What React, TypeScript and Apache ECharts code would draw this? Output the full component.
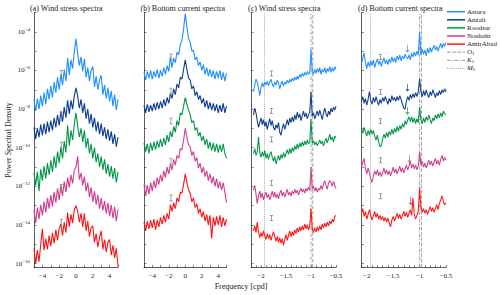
import React, { useEffect, useRef } from 'react';
import * as echarts from 'echarts';

// ---------- categories / labels ----------
const STATIONS = ['Astara', 'Anzali', 'Roodsar', 'Noshahr', 'AmirAbad'];
const COLORS = ['#1e90ff', '#0c3c8c', '#009646', '#d23c8c', '#ff1414'];
const PANEL_TITLES = ['(a) Wind stress spectra', '(b) Bottom current spectra', '(c) Wind stress spectra', '(d) Bottom current spectra'];
const TIDE_NAMES = ['O1', 'K1', 'M2'];
const TIDE_LABELS = ['{it|O}{sb|1}', '{it|K}{sb|1}', '{it|M}{sb|2}'];
const TIDE_FREQS = [-0.965, -1.0, -1.93]; // cpd

// frequency grids (cpd)
const FULL_START = -5, FULL_STEP = 0.2, FULL_COUNT = 51;
const C_START = -2.15, D_START = -2.1, ZOOM_STEP = 0.025, C_COUNT = 67, D_COUNT = 65;

// y values are log10(PSD)
const Y_MIN = -16.2, Y_MAX = -3;

// ---------- (a) wind stress, full band ----------
const ASTARA_A = [-7.5,-8.1,-7.45,-8.0,-7.3,-7.85,-7.15,-7.75,-6.95,-7.5,-6.8,-7.4,-6.6,-7.15,-6.35,-7.0,-6.2,-6.75,-5.95,-6.55,-5.35,-6.25,-5.45,-5.9,-5.0,-4.35,-5.1,-5.75,-5.3,-6.05,-5.4,-6.35,-5.85,-6.55,-6.0,-5.8,-6.85,-6.3,-7.0,-6.5,-6.25,-7.25,-6.75,-7.45,-6.9,-7.6,-7.05,-7.85,-7.25,-8.05,-7.5];
const ANZALI_A = [-8.95,-9.55,-9.0,-9.45,-8.8,-9.35,-8.75,-9.3,-8.65,-9.2,-8.6,-9.1,-8.45,-8.95,-8.3,-8.85,-8.1,-8.65,-7.9,-8.45,-7.55,-8.25,-7.55,-8.0,-7.3,-6.9,-7.35,-7.95,-7.5,-8.2,-7.7,-8.5,-8.0,-8.75,-8.25,-8.95,-8.45,-9.15,-8.65,-9.3,-8.75,-9.4,-8.95,-9.55,-9.05,-9.65,-9.15,-9.8,-9.3,-9.95,-9.45];
const ROODSAR_A = [-11.3,-11.95,-11.25,-12.25,-11.1,-11.7,-10.95,-11.6,-10.8,-11.4,-10.65,-11.25,-10.45,-11.05,-10.2,-10.8,-9.95,-10.55,-9.65,-10.25,-8.85,-9.9,-9.1,-9.6,-8.75,-8.2,-8.9,-9.45,-9.0,-9.7,-9.1,-10.0,-9.5,-10.3,-9.8,-10.55,-10.0,-10.75,-10.3,-11.0,-10.45,-11.15,-10.6,-11.35,-10.85,-11.5,-10.95,-11.6,-11.05,-11.8,-11.25];
const NOSHAHR_A = [-13.2,-13.9,-13.1,-13.7,-12.95,-13.5,-12.8,-13.35,-12.6,-13.15,-12.45,-13.05,-12.3,-12.85,-12.1,-12.7,-11.95,-12.5,-11.75,-12.3,-11.55,-12.05,-11.4,-11.85,-11.15,-11.0,-10.45,-11.65,-11.3,-11.95,-11.5,-12.25,-11.8,-12.55,-12.05,-12.8,-12.25,-12.95,-12.45,-13.15,-12.6,-13.25,-12.75,-13.4,-12.85,-13.55,-12.95,-13.65,-13.05,-13.8,-13.2];
const AMIRABAD_A = [-15.2,-16.0,-15.3,-15.9,-15.0,-14.2,-15.3,-14.7,-15.25,-14.55,-15.1,-14.4,-14.95,-14.25,-14.8,-14.15,-13.95,-14.55,-13.85,-14.4,-13.35,-14.1,-13.45,-13.9,-13.2,-13.0,-13.3,-13.85,-13.4,-14.1,-13.4,-14.3,-13.8,-14.6,-14.15,-14.05,-14.9,-14.45,-15.15,-14.65,-14.3,-15.25,-14.75,-15.4,-14.9,-14.75,-15.55,-15.05,-15.7,-15.2,-16.15];

// ---------- (b) bottom current, full band ----------
const ASTARA_B = [-6.1,-6.5,-6.05,-6.4,-6.0,-6.45,-6.05,-6.35,-5.95,-6.4,-6.0,-6.3,-5.85,-6.2,-5.75,-6.05,-5.3,-5.85,-5.35,-5.6,-5.05,-5.2,-4.65,-4.45,-3.85,-3.05,-3.75,-4.35,-4.55,-5.0,-4.95,-5.45,-5.3,-5.75,-5.55,-6.0,-5.7,-6.2,-5.85,-6.3,-5.95,-6.35,-6.0,-6.45,-6.05,-6.4,-6.0,-6.5,-6.1,-6.55,-6.15];
const ANZALI_B = [-7.8,-8.2,-7.75,-8.15,-7.8,-8.1,-7.7,-8.05,-7.65,-8.0,-7.6,-7.95,-7.5,-7.85,-7.4,-7.7,-7.2,-7.45,-6.95,-7.25,-6.7,-6.9,-6.35,-6.45,-5.95,-5.45,-5.95,-6.4,-6.5,-6.95,-6.8,-7.3,-7.1,-7.5,-7.3,-7.7,-7.45,-7.9,-7.55,-8.0,-7.65,-8.05,-7.7,-8.1,-7.75,-8.2,-7.8,-8.15,-7.7,-8.2,-7.85];
const ROODSAR_B = [-9.75,-10.2,-9.8,-10.3,-9.75,-10.15,-9.7,-10.1,-9.65,-10.0,-9.55,-9.95,-9.5,-9.85,-9.35,-9.7,-9.15,-9.45,-8.9,-9.2,-8.6,-8.85,-8.2,-8.3,-7.85,-7.4,-7.75,-8.05,-8.3,-8.7,-8.6,-9.1,-8.95,-9.4,-9.2,-9.65,-9.4,-9.85,-9.55,-10.05,-9.7,-10.15,-9.75,-10.2,-9.8,-10.25,-9.85,-10.2,-9.8,-10.3,-10.55];
const NOSHAHR_B = [-11.9,-12.5,-11.95,-12.4,-11.8,-12.25,-11.7,-12.1,-11.55,-11.9,-11.4,-11.75,-11.2,-11.55,-11.0,-11.35,-10.85,-11.15,-10.6,-10.9,-10.4,-10.55,-10.05,-10.1,-9.6,-9.0,-9.45,-9.85,-9.95,-10.4,-10.2,-10.7,-10.5,-11.05,-10.8,-11.3,-11.0,-11.5,-11.2,-11.7,-11.35,-11.85,-11.5,-12.0,-11.6,-12.1,-11.75,-12.2,-11.8,-12.3,-12.85];
const AMIRABAD_B = [-13.85,-14.3,-13.8,-14.2,-13.75,-14.15,-13.7,-14.25,-13.75,-14.1,-13.6,-13.95,-13.5,-13.85,-13.4,-13.7,-12.95,-13.3,-12.85,-13.15,-12.6,-12.8,-12.3,-12.35,-11.9,-11.35,-11.8,-12.2,-12.35,-12.8,-12.6,-13.1,-12.9,-13.4,-13.15,-13.6,-13.3,-13.8,-13.45,-14.0,-13.5,-14.7,-13.6,-14.05,-13.55,-14.0,-13.5,-14.1,-13.6,-14.05,-13.7];

// ---------- (c) wind stress, diurnal/semidiurnal band ----------
const ASTARA_C = [-7.1,-6.75,-6.45,-6.6,-6.9,-7.3,-6.9,-6.65,-6.85,-6.6,-6.75,-6.55,-6.8,-6.6,-6.45,-6.7,-6.85,-6.6,-6.75,-6.5,-6.65,-6.95,-6.7,-6.55,-6.8,-6.6,-6.7,-6.5,-6.65,-6.45,-6.6,-6.4,-6.55,-6.35,-6.5,-6.3,-6.45,-6.2,-6.35,-6.15,-6.3,-6.1,-6.25,-6.05,-6.2,-6.1,-4.9,-6.05,-6.2,-5.95,-6.15,-5.9,-6.1,-5.85,-6.2,-5.95,-6.1,-5.85,-6.15,-5.9,-6.05,-5.8,-6.1,-5.85,-6.05,-5.8,-5.95];
const ANZALI_C = [-8.3,-7.95,-8.2,-8.6,-8.95,-8.7,-8.45,-8.8,-8.55,-8.9,-8.65,-9.05,-8.75,-8.5,-8.85,-8.6,-8.95,-9.1,-8.8,-9.0,-8.7,-9.2,-9.35,-9.0,-8.75,-9.05,-8.8,-8.55,-8.85,-8.45,-8.7,-8.4,-8.65,-8.3,-8.55,-8.15,-8.45,-8.25,-8.6,-8.35,-8.1,-8.4,-8.2,-8.5,-8.3,-8.15,-7.1,-8.35,-8.2,-8.5,-8.3,-8.1,-8.35,-8.05,-8.3,-8.55,-8.2,-7.95,-8.25,-8.4,-8.1,-8.3,-7.95,-8.15,-7.9,-8.05,-7.85];
const ROODSAR_C = [-10.3,-10.05,-10.4,-10.2,-9.45,-10.25,-10.5,-10.2,-10.45,-10.15,-10.55,-10.3,-10.6,-10.35,-10.2,-10.5,-10.7,-10.45,-10.85,-10.6,-10.4,-10.65,-10.35,-10.55,-10.25,-10.5,-10.3,-10.1,-10.35,-10.05,-10.3,-10.0,-10.2,-9.9,-10.1,-9.8,-10.05,-9.75,-9.95,-9.7,-9.9,-9.65,-9.85,-9.6,-9.8,-9.7,-8.5,-9.75,-9.65,-9.85,-9.7,-9.9,-9.75,-9.6,-9.8,-9.65,-9.9,-9.7,-9.5,-9.75,-9.55,-9.3,-9.6,-9.45,-9.7,-9.4,-9.5];
const NOSHAHR_C = [-12.2,-11.95,-12.4,-12.9,-12.5,-12.25,-12.6,-12.35,-12.7,-12.45,-12.3,-12.6,-12.4,-12.7,-12.5,-12.25,-12.55,-12.3,-12.6,-12.4,-12.65,-12.35,-12.2,-12.5,-12.3,-12.55,-12.35,-12.15,-12.45,-12.3,-12.5,-12.25,-12.4,-12.15,-12.35,-12.2,-12.45,-12.25,-12.1,-12.3,-12.15,-12.35,-12.1,-12.25,-12.05,-12.2,-11.0,-12.15,-12.0,-12.25,-12.05,-12.3,-12.1,-12.2,-11.95,-12.15,-11.9,-11.7,-11.95,-12.15,-11.85,-11.7,-11.8,-12.0,-11.75,-11.95,-12.1];
const AMIRABAD_C = [-14.3,-14.05,-14.4,-13.85,-14.35,-14.65,-14.4,-14.6,-14.3,-14.55,-14.75,-14.45,-14.7,-14.5,-14.8,-14.55,-14.35,-14.6,-14.85,-14.6,-14.9,-14.65,-14.95,-14.7,-15.05,-14.75,-14.5,-14.8,-14.55,-14.3,-14.6,-14.35,-14.55,-14.25,-14.45,-14.15,-14.35,-14.1,-14.3,-14.05,-14.25,-13.95,-14.2,-14.0,-14.25,-14.05,-13.15,-14.2,-14.4,-14.15,-14.35,-14.1,-14.3,-14.05,-14.25,-13.95,-14.15,-13.9,-14.1,-13.85,-14.05,-13.8,-13.95,-13.7,-13.85,-13.55,-13.5];

// ---------- (d) bottom current, diurnal/semidiurnal band ----------
const ASTARA_D = [-5.65,-5.35,-5.1,-5.6,-5.9,-5.55,-5.8,-5.5,-5.75,-5.45,-5.85,-5.6,-5.4,-5.7,-5.5,-5.8,-5.55,-5.35,-5.65,-5.45,-5.7,-5.4,-5.6,-5.3,-5.55,-5.35,-5.6,-5.25,-5.45,-5.2,-5.5,-5.25,-5.4,-5.15,-5.35,-5.4,-5.2,-5.45,-5.1,-5.3,-5.05,-5.25,-5.0,-5.2,-4.0,-5.2,-4.9,-5.15,-4.95,-5.25,-4.85,-5.1,-4.8,-5.05,-4.85,-4.7,-4.95,-4.75,-5.0,-4.8,-4.6,-4.85,-4.6,-4.75,-4.55];
const ANZALI_D = [-7.6,-7.35,-7.7,-7.45,-7.8,-7.5,-7.1,-7.55,-7.75,-7.4,-7.65,-7.35,-7.6,-7.8,-7.5,-7.7,-7.4,-7.6,-7.35,-7.55,-7.75,-7.45,-7.65,-7.3,-7.55,-7.4,-7.6,-7.35,-7.55,-7.3,-7.5,-7.75,-7.95,-8.0,-7.6,-7.35,-7.55,-7.25,-7.45,-7.2,-7.4,-7.15,-7.35,-7.1,-6.45,-7.1,-7.35,-7.05,-7.3,-7.0,-7.25,-7.4,-7.1,-7.3,-7.0,-7.2,-7.4,-7.15,-7.3,-7.05,-7.25,-7.0,-7.15,-6.95,-7.1];
const ROODSAR_D = [-9.0,-9.25,-8.95,-9.2,-9.4,-9.1,-9.35,-9.05,-9.3,-9.1,-9.4,-9.6,-9.35,-9.7,-9.95,-9.9,-9.55,-9.3,-9.5,-9.2,-9.45,-9.15,-9.35,-9.05,-9.3,-9.0,-9.2,-8.9,-9.15,-8.85,-9.05,-8.75,-8.95,-8.6,-8.8,-8.55,-8.4,-8.65,-8.4,-8.7,-8.45,-8.75,-8.5,-8.7,-7.9,-8.55,-8.75,-8.45,-8.7,-8.4,-8.6,-8.3,-8.55,-8.75,-8.45,-8.6,-8.3,-8.5,-8.25,-8.45,-8.2,-8.4,-8.1,-8.25,-8.3];
const NOSHAHR_D = [-11.0,-10.75,-10.55,-11.1,-11.35,-11.05,-11.3,-11.6,-11.8,-11.45,-11.2,-11.4,-11.15,-11.45,-11.25,-11.5,-11.3,-11.05,-11.35,-11.15,-11.4,-11.2,-11.45,-11.25,-11.0,-11.3,-11.1,-11.35,-11.15,-10.95,-11.25,-11.05,-11.3,-11.1,-10.9,-11.15,-10.95,-10.7,-11.05,-10.85,-11.1,-10.9,-11.15,-10.95,-10.2,-10.9,-10.7,-11.0,-10.8,-11.05,-10.85,-10.65,-10.9,-10.7,-10.95,-10.75,-10.55,-10.85,-10.65,-10.9,-10.6,-10.4,-10.7,-10.5,-10.65];
const AMIRABAD_D = [-13.4,-13.15,-13.55,-13.3,-13.7,-13.45,-13.2,-13.5,-13.75,-13.5,-13.3,-13.6,-13.4,-13.7,-13.5,-13.75,-13.55,-13.8,-13.6,-13.85,-13.65,-13.9,-14.1,-13.75,-13.55,-13.8,-13.6,-13.4,-13.65,-13.45,-13.7,-13.5,-13.3,-13.55,-13.35,-13.6,-13.4,-13.2,-13.5,-12.6,-13.45,-13.7,-13.5,-13.3,-12.05,-13.1,-13.35,-13.15,-13.4,-13.2,-13.45,-13.25,-13.05,-13.3,-13.1,-13.35,-13.15,-12.95,-13.2,-12.9,-12.7,-12.5,-12.8,-12.95,-12.85];

// ---------- confidence intervals (centre, log10) and arrows ----------
const ERR_FREQS = [-1.75, -1.73, -1.79, -1.74];
const ERR_HALF = [0.2, 0.15, 0.13, 0.13];
const ERR_A = [-6.2, -8.4, -9.92, -12.1, -13.9];
const ERR_B = [-5.3, -7.07, -8.62, -10.7, -12.6];
const ERR_C = [-6.16, -8.1, -9.57, -11.82, -13.64];
const ERR_D = [-5.3, -7.11, -8.62, -10.65, -12.51];
const ARROW_FREQS = [-1.23, -1.23, -1.23, -1.19, -1.17];
const ARROW_TIPS = [-5.08, -7.1, -8.3, -10.8, -12.98];

const F = '"Liberation Serif", "DejaVu Serif", serif';
const TXT = '#222';
const AX = '#333';
const TIDE_COLOR = '#8a8a8a';
const TIDE_DASH: any[] = [[3.5, 1.8], [3.5, 1.5, 1, 1.5], [1, 1.2]];

function grid(start: number, step: number, n: number) {
  return Array.from({ length: n }, (_, i) => Math.round((start + step * i) * 1000) / 1000);
}

function buildOption() {
  const fFull = grid(FULL_START, FULL_STEP, FULL_COUNT);
  const fC = grid(C_START, ZOOM_STEP, C_COUNT);
  const fD = grid(D_START, ZOOM_STEP, D_COUNT);
  const panels = [
    { freqs: fFull, sets: [ASTARA_A, ANZALI_A, ROODSAR_A, NOSHAHR_A, AMIRABAD_A], err: ERR_A },
    { freqs: fFull, sets: [ASTARA_B, ANZALI_B, ROODSAR_B, NOSHAHR_B, AMIRABAD_B], err: ERR_B },
    { freqs: fC, sets: [ASTARA_C, ANZALI_C, ROODSAR_C, NOSHAHR_C, AMIRABAD_C], err: ERR_C },
    { freqs: fD, sets: [ASTARA_D, ANZALI_D, ROODSAR_D, NOSHAHR_D, AMIRABAD_D], err: ERR_D },
  ];
  const layout = [
    { left: 34, width: 84, min: -5, max: 5, interval: 1 },
    { left: 144, width: 82.5, min: -5, max: 5, interval: 1 },
    { left: 251, width: 85, min: -2.2, max: -0.5, interval: 0.1 },
    { left: 361.5, width: 84.5, min: -2.1, max: -0.5, interval: 0.1 },
  ];

  const fmtFull = (v: number) => {
    const r = Math.round(v);
    return Math.abs(v - r) < 1e-6 && r % 2 === 0 ? (r < 0 ? '\u2212' + -r : String(r)) : '';
  };
  const fmtZoom = (v: number) => {
    const r = Math.round(v * 10);
    if (Math.abs(v * 10 - r) > 1e-6 || r % 5 !== 0) return '';
    const s = String(Math.abs(r / 10));
    return r < 0 ? '\u2212' + s : s;
  };
  const fmtY = (v: number) => {
    const r = Math.round(v);
    if (Math.abs(v - r) > 1e-6 || r % 2 !== 0) return '';
    return '{b|10}{s|\u2212' + -r + '}';
  };

  const series: any[] = [];
  panels.forEach((p, k) => {
    p.sets.forEach((vals, s) => {
      series.push({
        type: 'line', name: STATIONS[s], xAxisIndex: k, yAxisIndex: k,
        data: p.freqs.map((f, i) => [f, vals[i]]).filter((d) => d[1] != null),
        symbol: 'none', showSymbol: false, silent: true,
        lineStyle: { color: COLORS[s], width: k < 2 ? 1.1 : 1.05 }, itemStyle: { color: COLORS[s] }, z: 2,
      });
    });
    const half = ERR_HALF[k];
    series.push({
      type: 'custom', name: 'ci' + k, xAxisIndex: k, yAxisIndex: k, silent: true, z: 3,
      data: p.err.map((c) => [ERR_FREQS[k], c]),
      renderItem: (_params: any, api: any) => {
        const x = api.value(0), y = api.value(1);
        const t = api.coord([x, y + half]);
        const b = api.coord([x, y - half]);
        const cap = 1.6;
        const st = { stroke: '#858585', lineWidth: 0.8 };
        return {
          type: 'group', children: [
            { type: 'line', shape: { x1: t[0], y1: t[1], x2: b[0], y2: b[1] }, style: st },
            { type: 'line', shape: { x1: t[0] - cap, y1: t[1], x2: t[0] + cap, y2: t[1] }, style: st },
            { type: 'line', shape: { x1: b[0] - cap, y1: b[1], x2: b[0] + cap, y2: b[1] }, style: st },
          ],
        };
      },
    });
  });

  // tidal lines in (c) and (d)
  [2, 3].forEach((k) => {
    TIDE_NAMES.forEach((nm, t) => {
      series.push({
        type: 'line', name: nm, xAxisIndex: k, yAxisIndex: k, silent: true, z: 1,
        data: [[TIDE_FREQS[t], Y_MIN], [TIDE_FREQS[t], Y_MAX]],
        symbol: 'none', showSymbol: false,
        lineStyle: { color: TIDE_COLOR, width: 0.8, type: TIDE_DASH[t] }, itemStyle: { color: TIDE_COLOR },
      });
    });
  });

  // arrows in (d)
  series.push({
    type: 'scatter', name: 'arrows', xAxisIndex: 3, yAxisIndex: 3, silent: true, z: 4,
    symbol: 'path://M0.8,0L1.2,0L1.2,6L2,6L1,9L0,6L0.8,6Z', symbolSize: [4, 8], symbolOffset: [0, '-50%'],
    symbolKeepAspect: false,
    data: ARROW_FREQS.map((f, i) => ({ value: [f, ARROW_TIPS[i]], itemStyle: { color: COLORS[i] } })),
  });

  const axisCommon = {
    axisLine: { show: true, onZero: false, lineStyle: { color: AX, width: 0.8 } },
    axisTick: { show: true, inside: true, length: 2.5, lineStyle: { color: AX, width: 0.6 } },
    splitLine: { show: false },
  };

  // legend drawn as graphic: line sample + label per entry
  const LEG_X = 447, LEG_Y = 11.7, LEG_DY = 8.1, LEG_W = 18;
  const legendEls: any[] = [];
  [...STATIONS, ...TIDE_NAMES].forEach((nm, i) => {
    const y = LEG_Y + LEG_DY * i;
    const isTide = i >= STATIONS.length;
    const t = i - STATIONS.length;
    legendEls.push({
      type: 'line', silent: true,
      shape: { x1: LEG_X, y1: y, x2: LEG_X + LEG_W, y2: y },
      style: isTide
        ? { stroke: TIDE_COLOR, lineWidth: 0.9, lineDash: TIDE_DASH[t] }
        : { stroke: COLORS[i], lineWidth: 1.5 },
    });
    legendEls.push({
      type: 'text', x: LEG_X + LEG_W + 2, y, silent: true,
      style: {
        text: isTide ? TIDE_LABELS[t] : nm, fontFamily: F, fontSize: 7, fill: TXT,
        align: 'left', verticalAlign: 'middle', textAlign: 'left', textVerticalAlign: 'middle',
        rich: {
          it: { fontFamily: F, fontSize: 7, fontStyle: 'italic', fill: TXT, color: TXT },
          sb: { fontFamily: F, fontSize: 5, fill: TXT, color: TXT, padding: [3, 0, 0, 0] },
        },
      },
    });
  });

  return {
    animation: false,
    backgroundColor: '#ffffff',
    grid: layout.map((l) => ({ left: l.left, width: l.width, top: 12.5, height: 255 })),
    xAxis: layout.map((l, k) => ({
      type: 'value', gridIndex: k, min: l.min, max: l.max, interval: l.interval, ...axisCommon,
      axisLabel: { fontFamily: F, fontSize: 7, color: TXT, margin: 5, formatter: k < 2 ? fmtFull : fmtZoom },
    })),
    yAxis: layout.map((_l, k) => ({
      type: 'value', gridIndex: k, min: Y_MIN, max: Y_MAX, splitNumber: 12, ...axisCommon,
      axisLabel: {
        show: k === 0, margin: 4, formatter: fmtY, fontFamily: F, color: TXT,
        rich: {
          b: { fontFamily: F, fontSize: 7, color: TXT },
          s: { fontFamily: F, fontSize: 5, color: TXT, padding: [0, 0, 5, 0] },
        },
      },
    })),
    graphic: [
      ...PANEL_TITLES.map((t, k) => ({
        type: 'text', x: [30, 140.5, 248, 358][k], y: 8.5, silent: true,
        style: { text: t, fontFamily: F, fontSize: 8, fill: TXT, align: 'left', verticalAlign: 'middle', textAlign: 'left', textVerticalAlign: 'middle' },
      })),
      {
        type: 'text', x: 8.5, y: 140, rotation: Math.PI / 2, silent: true,
        style: { text: 'Power Spectral Density', fontFamily: F, fontSize: 8, fill: TXT, align: 'center', verticalAlign: 'middle', textAlign: 'center', textVerticalAlign: 'middle' },
      },
      {
        type: 'text', x: 241, y: 286, silent: true,
        style: { text: 'Frequency [cpd]', fontFamily: F, fontSize: 8, fill: TXT, align: 'center', verticalAlign: 'middle', textAlign: 'center', textVerticalAlign: 'middle' },
      },
      ...legendEls,
    ],
    series,
  };
}

export default function App() {
  const ref = useRef<HTMLDivElement>(null);
  useEffect(() => {
    if (!ref.current) return;
    const chart = echarts.init(ref.current, null, { renderer: 'svg' });
    chart.setOption(buildOption() as any);
    return () => chart.dispose();
  }, []);
  return <div ref={ref} style={{ position: 'absolute', left: 0, top: 0, width: 500, height: 295, background: '#fff' }} />;
}
